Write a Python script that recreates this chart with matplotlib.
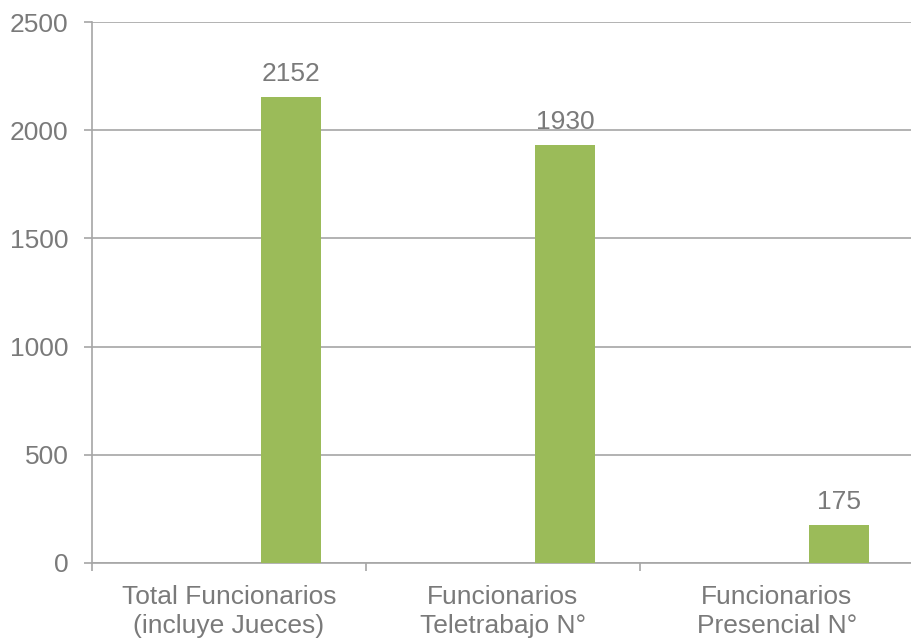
import matplotlib
matplotlib.use("Agg")
import matplotlib.pyplot as plt
import numpy as np

categories = ["Total Funcionarios\n(incluye Jueces)", "Funcionarios\nTeletrabajo N°", "Funcionarios\nPresencial N°"]
values = [2152, 1930, 175]
yticks = [0, 500, 1000, 1500, 2000, 2500]

plt.rcParams['font.family'] = ['Liberation Sans', 'DejaVu Sans']
txt = '#7A7A7A'
grid = '#A6A6A6'
green = '#9BBB59'
fs = 19

fig = plt.figure(figsize=(9.12, 6.41), dpi=100)
ax = fig.add_axes([92/912, 78/641, 822/912, 541/641])
x = np.arange(len(categories))
offset = 0.226
bars = ax.bar(x + offset, values, width=0.22, color=green, zorder=3)
for xi, v in zip(x, values):
    ax.annotate(str(v), (xi + offset, v), xytext=(0, 8), textcoords='offset points',
                ha='center', va='bottom', fontsize=fs, color=txt)

ax.set_xlim(-0.5, 2.5)
ax.set_ylim(0, 2500)
ax.set_yticks(yticks)
ax.set_yticklabels([str(t) for t in yticks], fontsize=fs, color=txt)
ax.yaxis.grid(True, color=grid, linewidth=1.2, zorder=0)
ax.tick_params(axis='y', length=6, color=grid, width=1.2, pad=11)

ax.set_xticks([-0.5, 0.5, 1.5, 2.5])
ax.set_xticklabels([])
ax.tick_params(axis='x', length=6, color=grid, width=1.2)
ax.set_xticks(x, minor=True)
ax.set_xticklabels(categories, minor=True, fontsize=fs, color=txt, linespacing=1.25)
ax.tick_params(axis='x', which='minor', length=0, pad=16)

for s in ['top', 'right']:
    ax.spines[s].set_visible(False)
for s in ['left', 'bottom']:
    ax.spines[s].set_color(grid)
    ax.spines[s].set_linewidth(1.2)

fig.savefig('out.png', dpi=100)
